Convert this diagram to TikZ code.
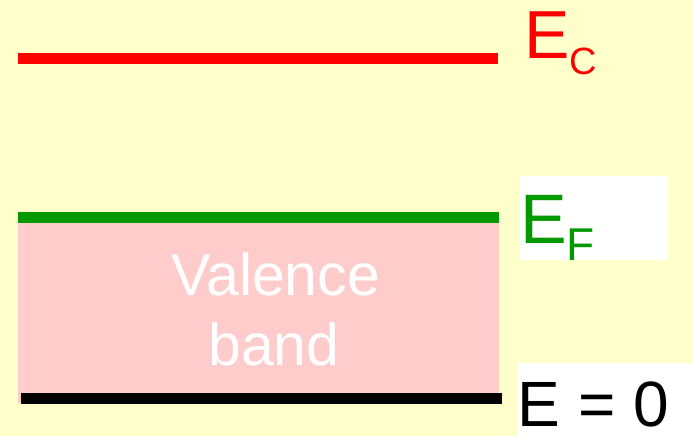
\documentclass[tikz,border=0pt]{standalone}
\usepackage{fontspec}
\setmainfont{Liberation Sans}
\definecolor{bgyellow}{HTML}{FFFFCC}
\definecolor{bandpink}{HTML}{FFCCCC}
\definecolor{lvlred}{HTML}{FF0000}
\definecolor{lvlgreen}{HTML}{009900}
\tikzset{
  lbl/.style={inner sep=0pt, outer sep=0pt, anchor=base west, text depth=0pt},
  bandtxt/.style={inner sep=0pt, anchor=base, text=white, font=\fontsize{59}{70}\selectfont}
}
\begin{document}
\begin{tikzpicture}[x=1pt,y=-1pt]
\fill[bgyellow] (0,0) rectangle (693,436);
\useasboundingbox (0,0) rectangle (693,436);
% valence band
\fill[bandpink] (18,222.5) rectangle (499,402.7);
% levels
\fill[lvlred] (18,53.3) rectangle (498,63.7);
\fill[lvlgreen] (18,212) rectangle (499,223);
\fill[black] (21,393) rectangle (501.5,404);
% white label boxes
\fill[white] (520,176) rectangle (667.7,259.7);
\fill[white] (517.7,363.3) rectangle (693,436);
% labels
\node[lbl, text=lvlred, font=\fontsize{68}{68}\selectfont] (ec) at (524,59) {E};
\node[lbl, text=lvlred, font=\fontsize{38}{38}\selectfont] (ecsub) at (569.8,74.5) {C};
\node[lbl, text=lvlgreen, font=\fontsize{70}{70}\selectfont] (ef) at (520.2,243.3) {E};
\begin{scope}
\clip (520,176) rectangle (667.7,259.7);
\node[lbl, text=lvlgreen, font=\fontsize{46}{46}\selectfont] (efsub) at (566.3,260.5) {F};
\end{scope}
\node[lbl, text=black, font=\fontsize{64}{64}\selectfont] (ezero) at (517.8,426) {E = 0};
\node[bandtxt] (valence) at (275.7,295) {Valence};
\node[bandtxt] (band) at (274,365) {band};
\end{tikzpicture}
\end{document}
